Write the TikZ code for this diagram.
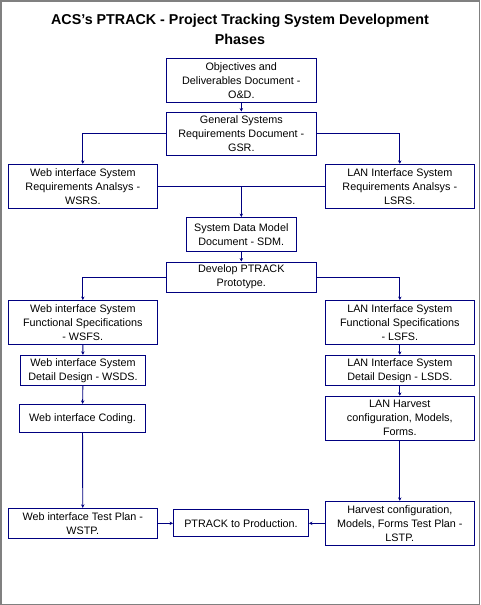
\documentclass[tikz,border=0pt]{standalone}
\usepackage{fontspec}
\setmainfont{Liberation Sans}
\usepackage{tikz}
\usetikzlibrary{arrows.meta,calc}
\usepackage{xcolor}
\definecolor{navyline}{HTML}{000080}
\definecolor{framegray}{HTML}{808080}

\tikzset{
  phasebox/.style={draw=navyline,line width=0.9pt,align=center,inner sep=0pt,
    font=\fontsize{10.8}{14}\selectfont,text=black},
  link/.style={navyline,line width=0.9pt,-{Stealth[length=3.5pt,width=3.5pt]}},
  plainlink/.style={navyline,line width=0.9pt}
}

\begin{document}
\begin{tikzpicture}[x=1pt,y=-1pt]
  \useasboundingbox (0,0) rectangle (480,605);
  \draw[framegray,line width=1.5pt] (0.75,0.75) rectangle (479.25,604.25);
  \node[font=\bfseries\fontsize{14.3}{20}\selectfont,align=center] (title) at (240,29.5)
        {ACS's PTRACK - Project Tracking System Development\\Phases};
  % phases
  \foreach \nm/\cx/\cy/\w/\h/\txt in {
    od/241.3/80.3/150/44/{Objectives and\\Deliverables Document -\\O\&D.},
    gsr/241.3/133.5/150/43/{General Systems\\Requirements Document -\\GSR.},
    wsrs/82.8/186.3/149/44/{Web interface System\\Requirements Analsys -\\WSRS.},
    lsrs/399.8/186.3/149/44/{LAN Interface System\\Requirements Analsys -\\LSRS.},
    sdm/241.3/234.5/110/34/{System Data Model\\Document - SDM.},
    dev/241.3/277/150/30/{Develop PTRACK\\Prototype.},
    wsfs/82.8/322.5/149/44/{Web interface System\\Functional Specifications\\- WSFS.},
    lsfs/399.8/322.5/149/44/{LAN Interface System\\Functional Specifications\\- LSFS.},
    wsds/83/370.3/125/30/{Web interface System\\Detail Design - WSDS.},
    lsds/399.8/370.3/149/30/{LAN Interface System\\Detail Design - LSDS.},
    cod/82.5/418.3/126/28/{Web interface Coding.},
    harv/399.8/418.3/149/44/{LAN Harvest\\configuration, Models,\\Forms.},
    wstp/82.8/523.3/149/30/{Web interface Test Plan -\\WSTP.},
    prod/241/523.3/135/27/{PTRACK to Production.},
    lstp/399.8/523.3/149/44/{Harvest configuration,\\Models, Forms Test Plan -\\LSTP.}} {
    \node[phasebox,minimum width=\w pt,minimum height=\h pt] (\nm) at (\cx,\cy) {\txt};
  }
  % connectors
  \draw[link] (od) -- (gsr);
  \draw[link] (gsr.west) -| (wsrs.north);
  \draw[link] (gsr.east) -| (lsrs.north);
  \draw[plainlink] (wsrs.east) -- (lsrs.west);
  \coordinate (join) at (wsrs.east -| sdm.north);
  \draw[link] (join) -- (sdm.north);
  \draw[link] (sdm) -- (dev);
  \draw[link] (dev.west) -| (wsfs.north);
  \draw[link] (dev.east) -| (lsfs.north);
  \draw[link] (wsfs) -- (wsds);
  \draw[link] (wsds) -- (cod);
  \draw[link] (cod) -- (wstp);
  \draw[link] (lsfs) -- (lsds);
  \draw[link] (lsds) -- (harv);
  \draw[link] (harv) -- (lstp);
  \draw[link] (wstp) -- (prod);
  \draw[link] (lstp) -- (prod);
\end{tikzpicture}
\end{document}
